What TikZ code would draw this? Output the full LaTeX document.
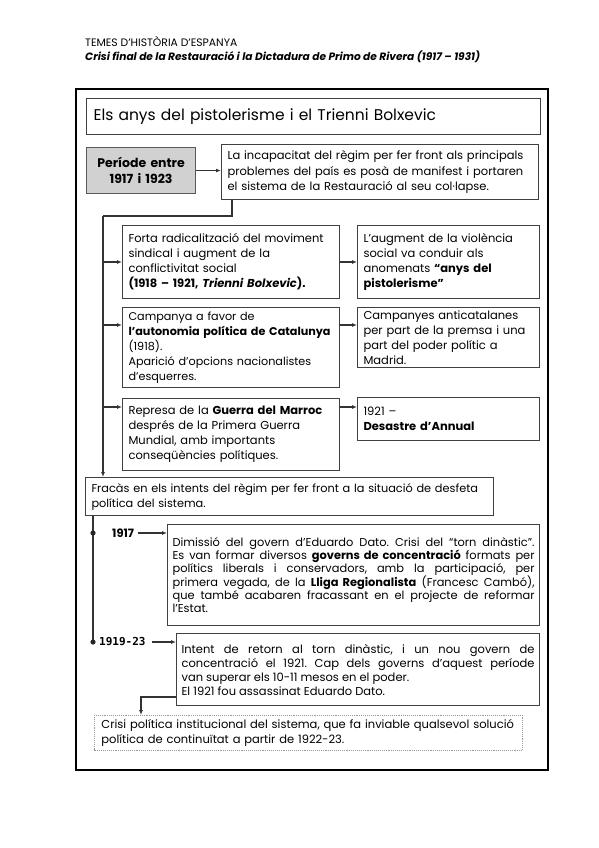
\documentclass[tikz,border=0pt]{standalone}
\usepackage{fontspec}
\setmainfont{Poppins}
\newfontfamily\monob{DejaVu Sans Mono}
\usetikzlibrary{arrows.meta,calc}
\frenchspacing
\begin{document}
\begin{tikzpicture}[x=1pt,y=-1pt,
  every node/.style={inner sep=0pt},
  bx/.style={draw=black!75, line width=1.1pt, anchor=north west, align=left, inner xsep=6pt, inner ysep=3pt},
  tx/.style={font=\fontsize{11.5}{15}\selectfont},
  ln/.style={draw=black!80, line width=1.1pt},
  arr/.style={ln, -{Latex[length=5pt,width=4pt]}}]
\useasboundingbox (0,0) rectangle (599,848);
% header
\node[anchor=west, font=\fontsize{10.8}{11}\selectfont] (h1) at (85,42) {TEMES D'HISTÒRIA D'ESPANYA};
\node[anchor=west, font=\fontsize{10.6}{11}\selectfont\bfseries\itshape] (h2) at (85,57) {Crisi final de la Restauració i la Dictadura de Primo de Rivera (1917 – 1931)};
% outer frame
\draw[line width=1.8pt] (76,89) rectangle (548,770);
% title
\node[bx, minimum width=454pt, minimum height=36pt, text width=440pt, font=\fontsize{15.5}{17}\selectfont, inner xsep=7pt] (title) at (86,98) {Els anys del pistolerisme i el Trienni Bolxevic};
% period
\node[bx, fill=black!18, draw=black!65, minimum width=109pt, minimum height=46pt, align=center, font=\fontsize{12.5}{16}\selectfont\bfseries, text width=97pt] (period) at (86,147) {Període entre\\1917 i 1923};
\node[bx, minimum width=317pt, minimum height=55pt, text width=305pt, inner xsep=6pt, font=\fontsize{11.5}{15.5}\selectfont] (b0) at (221,144) {La incapacitat del règim per fer front als principals\\problemes del país es posà de manifest i portaren\\el sistema de la Restauració al seu col·lapse.};
% rows
\node[bx, tx, minimum width=217pt, minimum height=73pt, text width=205pt] (r1l) at (122,225) {Forta radicalització del moviment\\sindical i augment de la\\conflictivitat social\\\textbf{(1918 – 1921, \textit{Trienni Bolxevic}).}};
\node[bx, tx, minimum width=182pt, minimum height=73pt, text width=170pt] (r1r) at (357,225) {L’augment de la violència\\social va conduir als\\anomenats \textbf{“anys del}\\\textbf{pistolerisme”}};
\node[bx, minimum width=217pt, minimum height=80pt, text width=205pt, font=\fontsize{11.2}{15}\selectfont] (r2l) at (122,307) {Campanya a favor de\\\mbox{\textbf{l’autonomia política de Catalunya}}\\(1918).\\Aparició d’opcions nacionalistes\\d’esquerres.};
\node[bx, tx, minimum width=182pt, minimum height=53pt, text width=170pt] (r2r) at (357,307) {Campanyes anticatalanes\\per part de la premsa i una\\part del poder polític a\\Madrid.};
\node[bx, tx, minimum width=217pt, minimum height=72pt, text width=205pt] (r3l) at (122,398) {Represa de la \textbf{Guerra del Marroc}\\després de la Primera Guerra\\Mundial, amb importants\\conseqüències polítiques.};
\node[bx, tx, minimum width=182pt, minimum height=43pt, text width=170pt] (r3r) at (357,397) {1921 –\\\textbf{Desastre d’Annual}};
% failure
\node[bx, minimum width=408pt, minimum height=38pt, text width=396pt, font=\fontsize{11.3}{15}\selectfont] (fail) at (85,477) {\mbox{Fracàs en els intents del règim per fer front a la situació de desfeta}\\política del sistema.};
% timeline boxes
\node[bx, minimum width=372pt, minimum height=101pt, text width=362pt, inner xsep=5pt, align=justify, font=\fontsize{11.4}{12.9}\selectfont] (b1917) at (167,524) {Dimissió del govern d’Eduardo Dato. Crisi del “torn dinàstic”.\linebreak Es van formar diversos \textbf{governs de concentració} formats per\linebreak polítics liberals i conservadors, amb la participació, per\linebreak primera vegada, de la \textbf{Lliga Regionalista} (Francesc Cambó),\linebreak que també acabaren fracassant en el projecte de reformar\linebreak l’Estat.};
\node[bx, minimum width=363pt, minimum height=72pt, text width=353pt, inner xsep=5pt, align=justify, font=\fontsize{11.5}{14}\selectfont] (b1919) at (176,633) {Intent de retorn al torn dinàstic, i un nou govern de\linebreak concentració el 1921. Cap dels governs d’aquest període\linebreak van superar els 10-11 mesos en el poder.\\El 1921 fou assassinat Eduardo Dato.};
\node[bx, draw=black!40, densely dotted, line width=0.8pt, minimum width=428pt, minimum height=35pt, text width=414pt, inner xsep=7pt, font=\fontsize{11.5}{15}\selectfont] (final) at (94,715) {\mbox{Crisi política institucional del sistema, que fa inviable qualsevol solució}\\política de continuïtat a partir de 1922-23.};
% coordinates
\coordinate (trunk) at (103,216);
\coordinate (y1) at (0,262);
\coordinate (y2) at (0,325);
\coordinate (y3) at (0,407);
\coordinate (d1) at (93,533);
\coordinate (d2) at (93,642);
\coordinate (y7) at (0,697);
\coordinate (c3) at (141,0);
% connectors
\draw[arr] (period.east) -- (period.east -| b0.west);
\draw[ln] ($(b0.south west)+(11,0)$) |- (trunk);
\draw[arr] (trunk) -- (trunk |- fail.north);
\draw[arr] (trunk |- y1) -- (r1l.west |- y1);
\draw[arr] (trunk |- y2) -- (r2l.west |- y2);
\draw[arr] (trunk |- y3) -- (r3l.west |- y3);
\draw[arr] (r1l.east |- y1) -- (r1r.west |- y1);
\draw[arr] (r2l.east |- y2) -- (r2r.west |- y2);
\draw[arr] (r3l.east |- y3) -- (r3r.west |- y3);
% timeline
\draw[ln] (d1 |- fail.south) -- (d2);
\fill[black!85] (d1) circle (2.6);
\fill[black!85] (d2) circle (2.6);
\node[font=\fontsize{11.5}{13}\selectfont\bfseries, anchor=west] (l1917) at (112,533) {1917};
\node[font=\fontsize{11}{13}\monob\bfseries, anchor=west] (l1919) at (99,642) {1919-23};
\draw[arr] ($(l1917.east)+(4,0)$) -- (b1917.west |- l1917.east);
\draw[arr] ($(l1919.east)+(6,0)$) -- (b1919.west |- l1919.east);
\draw[arr] (b1919.west |- y7) -| (final.north -| c3);
\end{tikzpicture}
\end{document}
